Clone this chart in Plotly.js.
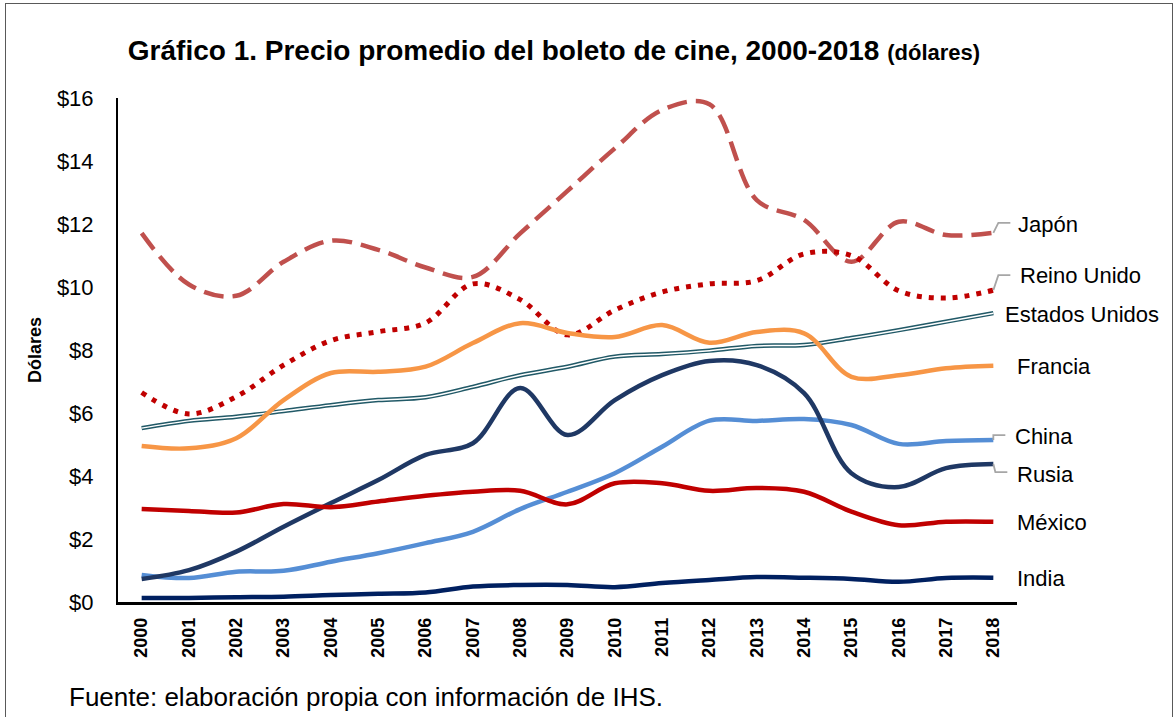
<!DOCTYPE html>
<html>
<head>
<meta charset="utf-8">
<script src="https://cdn.plot.ly/plotly-3.0.1.min.js"></script>
<style>
  html, body { margin: 0; padding: 0; background: #fff; }
  #wrap { position: relative; width: 1175px; height: 717px; overflow: hidden; }
  #chart { position: absolute; left: 0; top: 0; width: 1175px; height: 717px; }
  #frame { position: absolute; left: 5px; top: 3px; width: 1166px; height: 730px; border: 1.5px solid #595959; pointer-events: none; }
</style>
</head>
<body>
<div id="wrap"><div id="chart"></div><div id="frame"></div></div>
<script>
const years = [2000,2001,2002,2003,2004,2005,2006,2007,2008,2009,2010,2011,2012,2013,2014,2015,2016,2017,2018];
const yTicks = [0,2,4,6,8,10,12,14,16];

const japon         = [11.71,10.08,9.72,10.80,11.47,11.18,10.62,10.32,11.70,13.05,14.40,15.62,15.80,12.76,12.13,10.80,12.07,11.65,11.72];
const reinoUnido    = [6.65,5.97,6.52,7.52,8.30,8.58,8.86,10.10,9.60,8.48,9.27,9.84,10.10,10.20,11.05,11.00,9.88,9.65,9.90];
const estadosUnidos = [5.52,5.75,5.88,6.06,6.25,6.41,6.50,6.83,7.20,7.47,7.79,7.87,7.98,8.13,8.16,8.38,8.63,8.90,9.17];
const francia       = [4.95,4.88,5.20,6.41,7.27,7.31,7.47,8.22,8.85,8.54,8.41,8.79,8.23,8.57,8.53,7.15,7.20,7.42,7.50];
const china         = [0.86,0.76,0.96,0.99,1.28,1.55,1.87,2.23,2.95,3.50,4.09,4.93,5.76,5.75,5.81,5.62,5.02,5.11,5.14];
const rusia         = [0.73,1.01,1.60,2.39,3.14,3.87,4.67,5.04,6.79,5.30,6.41,7.20,7.65,7.52,6.63,4.09,3.65,4.25,4.38];
const mexico        = [2.95,2.89,2.84,3.11,3.01,3.19,3.37,3.50,3.53,3.10,3.77,3.77,3.53,3.62,3.50,2.87,2.44,2.55,2.55];
const india         = [0.13,0.13,0.15,0.17,0.22,0.26,0.30,0.49,0.54,0.54,0.47,0.60,0.70,0.79,0.77,0.73,0.64,0.76,0.77];

const FONT = '"Liberation Sans", Arial, sans-serif';

function line(name, y, color, width, dash) {
  return {
    type: 'scatter', mode: 'lines', name: name, x: years, y: y,
    line: { color: color, width: width, shape: 'spline', smoothing: 1, dash: dash || 'solid' },
    showlegend: false, hoverinfo: 'x+y+name'
  };
}

const traces = [
  line('Estados Unidos', estadosUnidos, '#215967', 4.5),
  line('Estados Unidos', estadosUnidos, '#ffffff', 1.5),
  line('Japón', japon, '#C0504D', 4.5, '20px,9px'),
  line('Reino Unido', reinoUnido, '#C00000', 5, '5px,7px'),
  line('Francia', francia, '#F79646', 4.5),
  line('China', china, '#558ED5', 4.5),
  line('Rusia', rusia, '#1F3864', 4.5),
  line('México', mexico, '#C00000', 4.5),
  line('India', india, '#002060', 4.5)
];

// label placement (pixel offsets from the last point)
const labels = [
  { text: 'Japón',          y: 11.97, xs: 23 },
  { text: 'Reino Unido',    y: 10.35, xs: 25 },
  { text: 'Estados Unidos', y: 9.14,  xs: 10 },
  { text: 'Francia',        y: 7.49,  xs: 22 },
  { text: 'China',          y: 5.24,  xs: 20 },
  { text: 'Rusia',          y: 4.06,  xs: 22 },
  { text: 'México',         y: 2.51,  xs: 22 },
  { text: 'India',          y: 0.76,  xs: 22 }
];
const last = years[years.length - 1];
const annotations = labels.map(l => ({
  xref: 'x', yref: 'y', x: last, y: l.y, xanchor: 'left', yanchor: 'middle',
  xshift: l.xs, text: l.text, showarrow: false,
  font: { family: FONT, size: 22, color: '#000' }
}));
annotations.push({
  xref: 'paper', yref: 'paper', x: -83/899, y: 0.5, textangle: -90,
  text: '<b>Dólares</b>', showarrow: false, xanchor: 'center', yanchor: 'middle',
  font: { family: FONT, size: 18, color: '#000' }
});
annotations.push({
  xref: 'paper', yref: 'paper', x: -51/899, y: -95/504, xanchor: 'left', yanchor: 'middle',
  text: 'Fuente: elaboración propia con información de IHS.', showarrow: false,
  font: { family: FONT, size: 26, color: '#000' }
});

function leader(yv, path) {
  return {
    type: 'path', xref: 'x', yref: 'y', xsizemode: 'pixel', ysizemode: 'pixel',
    xanchor: last, yanchor: yv, path: path,
    line: { color: '#A6A6A6', width: 1.8 }
  };
}
const shapes = [
  leader(japon[18], 'M0,0 L5,10 L17,10'),
  leader(reinoUnido[18], 'M0,0 L5,15 L17,15'),
  leader(china[18], 'M0,0 L0,5 L12,5'),
  leader(rusia[18], 'M0,0 L2,-8 L14,-8')
];

const layout = {
  width: 1175, height: 717,
  margin: { l: 118, r: 158, t: 98, b: 115 },
  paper_bgcolor: '#fff', plot_bgcolor: '#fff',
  font: { family: FONT, color: '#000' },
  title: {
    text: '<b>Gráfico 1. Precio promedio del boleto de cine, 2000-2018 <span style="font-size:22px">(dólares)</span></b>',
    font: { family: FONT, size: 28, color: '#000' },
    xref: 'container', yref: 'container', x: 554/1175, xanchor: 'center', y: 1 - 50/717, yanchor: 'middle'
  },
  xaxis: {
    type: 'linear', range: [1999.5, 2018.5], tickvals: years, ticktext: years.map(String),
    tickangle: -90, showgrid: false, zeroline: false, showline: true, linecolor: '#000', linewidth: 2.5,
    ticks: '', tickfont: { family: FONT, size: 18, color: '#000', weight: 'bold' },
    ticklabelstandoff: 6, fixedrange: true
  },
  yaxis: {
    range: [0, 16], tickvals: yTicks, ticktext: yTicks.map(v => '$' + v),
    showgrid: false, zeroline: false, showline: true, linecolor: '#000', linewidth: 2,
    ticks: '', tickfont: { family: FONT, size: 22, color: '#000' },
    ticklabelstandoff: 18, fixedrange: true
  },
  annotations: annotations,
  shapes: shapes,
  showlegend: false
};

Plotly.newPlot('chart', traces, layout, { staticPlot: true, displayModeBar: false });
</script>
</body>
</html>
